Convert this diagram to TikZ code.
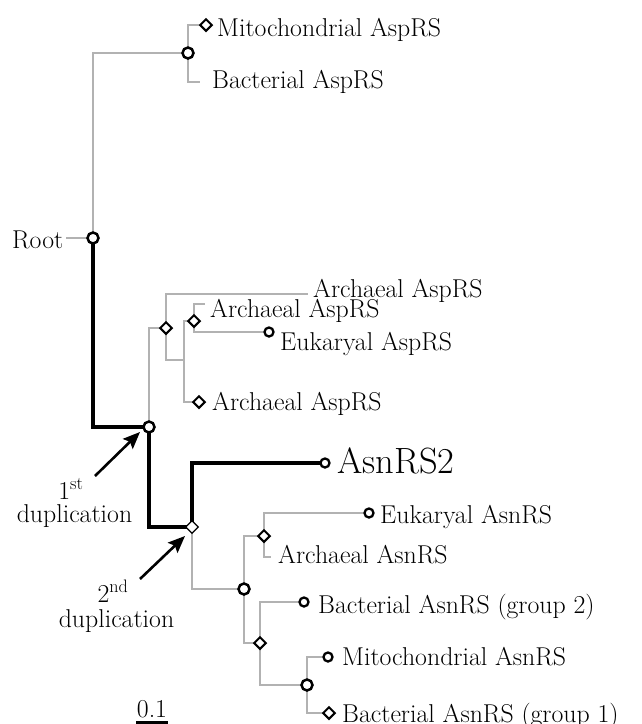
\documentclass[tikz,border=0pt]{standalone}
\usetikzlibrary{backgrounds,shapes.geometric,arrows.meta}
\begin{document}
\begin{tikzpicture}[x=1pt,y=-1pt,
  gl/.style={draw=black!30, line width=2.5pt},
  bl/.style={draw=black, line width=4pt, line join=miter},
  circ/.style={circle, draw=black, fill=white, line width=2.5pt, minimum size=11pt, inner sep=0pt},
  leafc/.style={circle, draw=black, fill=white, line width=2.3pt, minimum size=9pt, inner sep=0pt},
  dia/.style={diamond, draw=black, fill=white, line width=2pt, minimum size=12.5pt, inner sep=0pt},
  thindia/.style={diamond, draw=black, fill=white, line width=1.2pt, minimum size=13pt, inner sep=0pt},
  lab/.style={anchor=base west, inner sep=0pt, font=\fontsize{25.8}{30}\selectfont},
  clab/.style={anchor=base, inner sep=0pt, font=\fontsize{25.8}{30}\selectfont},
  arr/.style={draw=black, line width=2.6pt, -{Stealth[length=17pt,width=14pt,inset=3pt]}}
]
\useasboundingbox (0,0) rectangle (641,724);

% internal nodes
\node[circ] (R) at (93,238) {};
\node[circ] (A1) at (188,53) {};
\node[circ] (D1) at (149,427) {};
\node[dia] (B1) at (166,328) {};
\coordinate (J) at (184,360);
\node[dia] (B2) at (194,321) {};
\node[thindia] (D2) at (192,527) {};
\node[circ] (C1) at (244,589) {};
\node[dia] (C2) at (264,536) {};
\node[dia] (C3) at (260,643) {};
\node[circ] (C4) at (307,685) {};

% leaves
\node[dia] (MAsp) at (206,25) {};
\coordinate (BAsp) at (200,82);
\coordinate (ArA) at (308,294);
\coordinate (ArB) at (205,304);
\node[leafc] (EuAsp) at (269,332) {};
\node[dia] (ArC) at (199,402) {};
\node[leafc] (AsnII) at (325,463) {};
\node[leafc] (EuAsn) at (369,513) {};
\coordinate (ArAsn) at (271,557);
\node[leafc] (BAsnII) at (304,602) {};
\node[leafc] (MAsn) at (328,657) {};
\node[dia] (BAsnI) at (329,713) {};

% labels
\node[lab] (tMAsp) at (217,36) {Mitochondrial AspRS};
\node[lab] (tBAsp) at (212,88) {Bacterial AspRS};
\node[lab] (tArA) at (313,297) {Archaeal AspRS};
\node[lab] (tArB) at (210,317) {Archaeal AspRS};
\node[lab] (tEuAsp) at (280,350) {Eukaryal AspRS};
\node[lab] (tArC) at (212,410) {Archaeal AspRS};
\node[anchor=base west, inner sep=0pt, font=\fontsize{36.5}{40}\selectfont] (tAsnII) at (337,473) {AsnRS2};
\node[lab] (tEuAsn) at (380,523) {Eukaryal AsnRS};
\node[lab] (tArAsn) at (278,563) {Archaeal AsnRS};
\node[lab] (tBAsnII) at (318,613) {Bacterial AsnRS (group 2)};
\node[lab] (tMAsn) at (342,665) {Mitochondrial AsnRS};
\node[lab] (tBAsnI) at (342,722) {Bacterial AsnRS (group 1)};
\node[lab] (tRoot) at (12,248) {Root};
\coordinate (rdash) at (66,238);

\node[clab] (t1st) at (71,499) {1\textsuperscript{st}};
\node[clab] (tdup1) at (74.5,522) {duplication};
\node[clab] (t2nd) at (113,602) {2\textsuperscript{nd}};
\node[clab] (tdup2) at (116.5,627) {duplication};

% arrows
\coordinate (a1s) at (95,476);
\coordinate (a1e) at (140,432);
\coordinate (a2s) at (140,579);
\coordinate (a2e) at (185,536);
\draw[arr] (a1s) -- (a1e);
\draw[arr] (a2s) -- (a2e);

% scale bar
\node[clab] (tscale) at (152,717) {0.1};
\coordinate (sb1) at (136,723);
\coordinate (sb2) at (168,723);
\draw[black, line width=3.5pt] (sb1) -- (sb2);

\begin{scope}[on background layer]
  \draw[gl] (rdash) -- (R.center);
  \draw[gl] (R.center) |- (A1.center);
  \draw[gl] (A1.center) |- (MAsp.center);
  \draw[gl] (A1.center) |- (BAsp);
  \draw[gl] (D1.center) |- (B1.center);
  \draw[gl] (B1.center) |- (ArA);
  \draw[gl] (B1.center) |- (J);
  \draw[gl] (J) |- (B2.center);
  \draw[gl] (J) |- (ArC.center);
  \draw[gl] (B2.center) |- (ArB);
  \draw[gl] (B2.center) |- (EuAsp.center);
  \draw[gl] (D2.center) |- (C1.center);
  \draw[gl] (C1.center) |- (C2.center);
  \draw[gl] (C2.center) |- (EuAsn.center);
  \draw[gl] (C2.center) |- (ArAsn);
  \draw[gl] (C1.center) |- (C3.center);
  \draw[gl] (C3.center) |- (BAsnII.center);
  \draw[gl] (C3.center) |- (C4.center);
  \draw[gl] (C4.center) |- (MAsn.center);
  \draw[gl] (C4.center) |- (BAsnI.center);
  \draw[bl] (R.center) |- (D1.center);
  \draw[bl] (D1.center) |- (D2.center);
  \draw[bl] (D2.center) |- (AsnII.center);
\end{scope}
\end{tikzpicture}
\end{document}
